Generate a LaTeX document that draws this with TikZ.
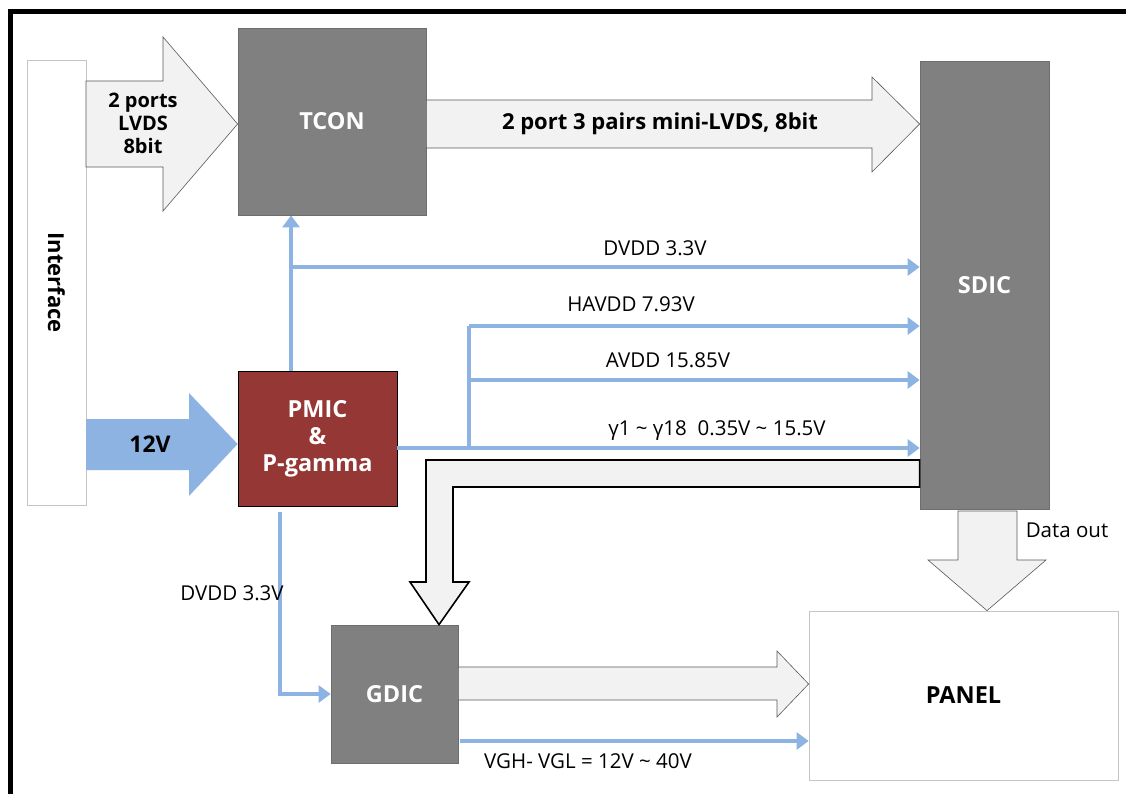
\documentclass[tikz,border=0pt]{standalone}
\usepackage{fontspec}
\setmainfont{Open Sans}
\usetikzlibrary{arrows.meta,calc}
\definecolor{chipgray}{HTML}{808080}
\definecolor{chipedge}{HTML}{6E6E6E}
\definecolor{pmicred}{HTML}{953735}
\definecolor{railblue}{HTML}{8DB3E2}
\definecolor{busfill}{HTML}{F2F2F2}
\definecolor{busedge}{HTML}{595959}
\definecolor{lightedge}{HTML}{C4C4C4}

\begin{document}
\begin{tikzpicture}[x=1pt,y=-1pt,
  chip/.style={draw=chipedge, fill=chipgray, line width=0.8pt, text=white,
    font=\bfseries\fontsize{23.5}{27}\selectfont, align=center, inner sep=0pt},
  pmicbox/.style={chip, draw=black, fill=pmicred},
  plainbox/.style={draw=lightedge, fill=white, line width=0.8pt, inner sep=0pt},
  bus/.style={draw=busedge, fill=busfill, line width=0.6pt, line join=miter},
  rail/.style={draw=railblue, line width=4pt},
  railarrow/.style={rail, -{Triangle[length=12pt,width=17pt]}},
  boldlbl/.style={font=\bfseries\fontsize{20}{23}\selectfont, align=center, inner sep=0pt},
  lbl/.style={font=\fontsize{20.5}{24}\selectfont, inner sep=0pt, anchor=base}
]
\useasboundingbox (0,0) rectangle (1126,794);
\fill[white] (0,0) rectangle (1126,794);
% outer frame
\draw[line width=5pt] (10,12) rectangle (1145,815);

% blocks
\node[plainbox, rotate=-90, minimum width=445pt, minimum height=59pt,
      font=\bfseries\fontsize{22}{25}\selectfont] (iface) at (56.5,282.5) {Interface};
\node[chip, minimum width=188pt, minimum height=187pt] (tcon) at (332,121.5) {TCON};
\node[chip, minimum width=129pt, minimum height=448pt] (sdic) at (984.5,285) {SDIC};
\node[pmicbox, minimum width=159pt, minimum height=135pt] (pmic) at (317.5,438.5) {PMIC\\\&\\P-gamma};
\node[chip, minimum width=127pt, minimum height=138pt] (gdic) at (394.5,694) {GDIC};
\node[plainbox, minimum width=309pt, minimum height=169pt, text=black,
      font=\bfseries\fontsize{23.5}{27}\selectfont] (panel) at (963.5,695.5) {PANEL};

% LVDS input bus
\draw[bus] (86,81) -- (163,81) -- (163,37) -- (tcon.west |- 0,124) -- (163,211)
  -- (163,167) -- (86,167) -- cycle;
\node[boldlbl] (lvdsin) at (143,123) {2 ports\\LVDS\\8bit};

% mini-LVDS bus
\draw[bus] (tcon.east |- 0,100) -- (872,100) -- (872,77) -- (sdic.west |- 0,124)
  -- (872,172) -- (872,148) -- (tcon.east |- 0,148) -- cycle;
\node[boldlbl, font=\bfseries\fontsize{22}{25}\selectfont] (minilvds) at (660,123.5) {2 port 3 pairs mini-LVDS, 8bit};

% 12V supply
\fill[railblue] (86,419) -- (189,419) -- (189,393) -- (pmic.west |- 0,444) -- (189,496)
  -- (189,470) -- (86,470) -- cycle;
\node[boldlbl, font=\bfseries\fontsize{23}{25}\selectfont] (vin) at (150,444) {12V};

% SDIC to GDIC control bus
\draw[draw=black, fill=busfill, line width=1.6pt, line join=miter]
  (sdic.west |- 0,460) -- (426,460) -- (426,582) -- (410,582) -- (gdic.north -| 439,0)
  -- (469,582) -- (453,582) -- (453,487) -- (sdic.west |- 0,487) -- cycle;

% GDIC to PANEL bus
\draw[bus] (gdic.east |- 0,667) -- (777,667) -- (777,651) -- (panel.west |- 0,684)
  -- (777,717) -- (777,700) -- (gdic.east |- 0,700) -- cycle;

% data out
\draw[bus] (958,511) -- (1017,511) -- (1017,560) -- (1046,560) -- (panel.north -| 987,0)
  -- (928,560) -- (958,560) -- cycle;
\node[lbl] (dout) at (1067,537) {Data out};

% power rails
\coordinate (j1) at (291,267);
\coordinate (j2) at (469,326);
\coordinate (j3) at (469,380);
\coordinate (j4) at (469,448);
\draw[railarrow] (pmic.north -| j1) -- (tcon.south -| j1);
\draw[railarrow] (j1) -- (j1 -| sdic.west);
\draw[rail] (j2) -- (j4);
\draw[railarrow] (j2) -- (j2 -| sdic.west);
\draw[railarrow] (j3) -- (j3 -| sdic.west);
\draw[railarrow] (pmic.east |- j4) -- (j4 -| sdic.west);
\coordinate (g0) at (280,512);
\draw[railarrow] (g0) -- (g0 |- gdic.west) -- (gdic.west);
\coordinate (v0) at (460,741);
\draw[railarrow] (v0) -- (v0 -| panel.west);

% rail labels
\node[lbl] (l1) at (655,255) {DVDD 3.3V};
\node[lbl] (l2) at (631,311) {HAVDD 7.93V};
\node[lbl] (l3) at (668,367) {AVDD 15.85V};
\node[lbl] (l4) at (717,435) {γ1 \textasciitilde{} γ18\ \ 0.35V \textasciitilde{} 15.5V};
\node[lbl] (l5) at (232,600) {DVDD 3.3V};
\node[lbl] (l6) at (588,768) {VGH- VGL = 12V \textasciitilde{} 40V};
\end{tikzpicture}
\end{document}
